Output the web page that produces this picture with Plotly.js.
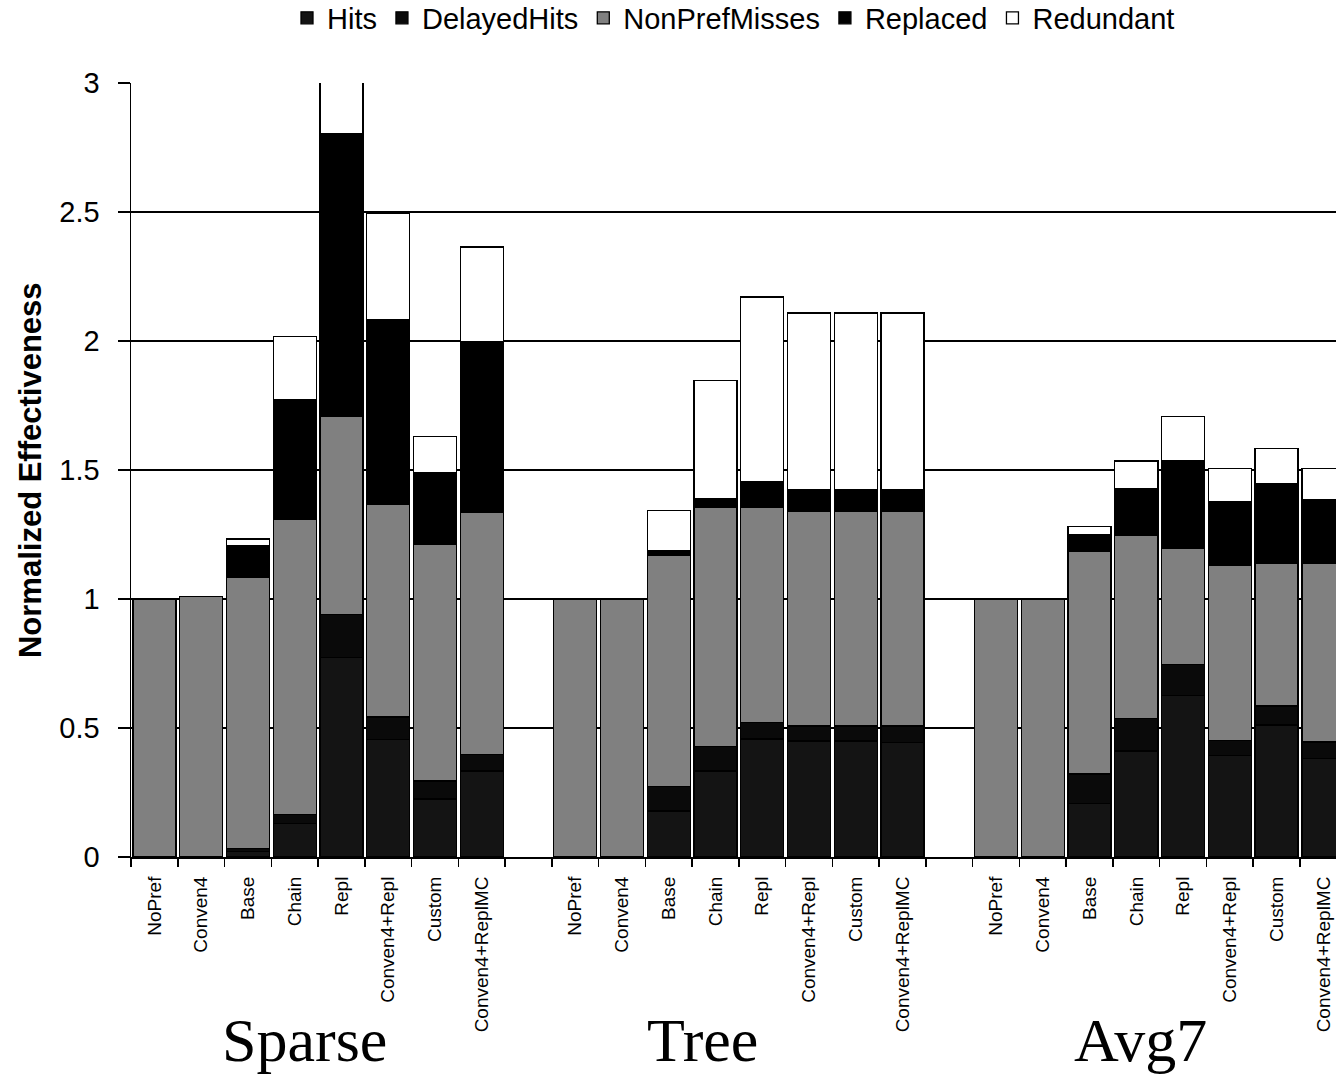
<!DOCTYPE html>
<html>
<head>
<meta charset="utf-8">
<script src="https://cdn.plot.ly/plotly-3.0.1.min.js"></script>
<style>html,body{margin:0;padding:0;background:#fff;}#chart{width:1336px;height:1082px;}</style>
</head>
<body>
<div id="chart"></div>
<script>
// ---- data ----
const groups = ["Sparse", "Tree", "Avg7"];
const configs = ["NoPref", "Conven4", "Base", "Chain", "Repl", "Conven4+Repl", "Custom", "Conven4+ReplMC"];

// values per bar, groups concatenated: Sparse (8), Tree (8), Avg7 (8)
const hits = [0, 0, 0.020, 0.130, 0.774, 0.456, 0.225, 0.333,
              0, 0, 0.178, 0.333, 0.457, 0.450, 0.450, 0.443,
              0, 0, 0.208, 0.411, 0.626, 0.394, 0.512, 0.381];
const delayedHits = [0, 0, 0.014, 0.035, 0.166, 0.087, 0.070, 0.065,
                     0, 0, 0.094, 0.094, 0.064, 0.058, 0.058, 0.065,
                     0, 0, 0.114, 0.126, 0.120, 0.058, 0.073, 0.065];
const nonPrefMisses = [1.000, 1.009, 1.048, 1.142, 0.769, 0.825, 0.918, 0.939,
                       1.000, 1.000, 0.899, 0.927, 0.833, 0.830, 0.830, 0.830,
                       1.000, 1.000, 0.861, 0.708, 0.452, 0.677, 0.552, 0.691];
const replaced = [0, 0, 0.123, 0.464, 1.093, 0.713, 0.278, 0.659,
                  0, 0, 0.016, 0.036, 0.099, 0.084, 0.084, 0.084,
                  0, 0, 0.067, 0.183, 0.339, 0.247, 0.309, 0.247];
const redundant = [0, 0, 0.028, 0.246, 0.500, 0.413, 0.138, 0.368,
                   0, 0, 0.155, 0.456, 0.718, 0.687, 0.687, 0.687,
                   0, 0, 0.030, 0.107, 0.171, 0.129, 0.136, 0.121];
const yTicks = [0, 0.5, 1, 1.5, 2, 2.5, 3];
const yTitle = "Normalized Effectiveness";

// ---- slot positions (one empty slot between groups) ----
const xs = [], labels = [];
groups.forEach((g, gi) => configs.forEach((c, ci) => { xs.push(gi * (configs.length + 1) + ci); labels.push(c); }));
const nSlots = groups.length * (configs.length + 1) - 1;
const bounds = [];
for (let k = 0; k <= nSlots; k++) bounds.push(k - 0.5);
const groupCenters = [3.2, 11.73, 21.08];

const FONT = "Liberation Sans, Arial, Helvetica, sans-serif";
const line = {color: "#000", width: 1.3};
function tr(name, vals, color) {
  return {type: "bar", name: name, x: xs, y: vals,
          marker: {color: color, line: line}, hoverinfo: "name+y"};
}
const data = [
  tr("Hits", hits, "#141414"),
  tr("DelayedHits", delayedHits, "#0a0a0a"),
  tr("NonPrefMisses", nonPrefMisses, "#808080"),
  tr("Replaced", replaced, "#000000"),
  tr("Redundant", redundant, "#ffffff")
];

const annotations = groups.map((g, i) => ({
  text: g, xref: "x", yref: "paper", x: groupCenters[i], y: -0.236,
  xanchor: "center", yanchor: "middle", showarrow: false,
  font: {family: "Liberation Serif, Times New Roman, serif", size: 62, color: "#000"}
}));
annotations.push({
  text: "<b>" + yTitle + "</b>", xref: "paper", yref: "paper", x: -0.0838, y: 0.5,
  xanchor: "center", yanchor: "middle", textangle: -90, showarrow: false,
  font: {family: FONT, size: 31, color: "#000"}
});

const layout = {
  width: 1336, height: 1082,
  margin: {l: 131, r: 0, t: 83, b: 225, autoexpand: false},
  paper_bgcolor: "#fff", plot_bgcolor: "#fff",
  barmode: "stack", bargap: 0.08,
  font: {family: FONT, color: "#000"},
  showlegend: true,
  legend: {orientation: "h", x: 0.5, xanchor: "center", y: 1.084, yanchor: "middle",
           traceorder: "normal", font: {family: FONT, size: 29, color: "#000"},
           itemwidth: 30, bgcolor: "rgba(0,0,0,0)"},
  xaxis: {range: [-0.5, 25.27], tickmode: "array", tickvals: xs, ticktext: labels,
          tickangle: -90, ticks: "", ticklabelstandoff: 10,
          tickfont: {family: FONT, size: 19, color: "#000"},
          showline: true, linecolor: "#000", linewidth: 2, showgrid: false, zeroline: false,
          minor: {tickmode: "array", tickvals: bounds, ticks: "outside", ticklen: 8,
                  tickwidth: 1.5, tickcolor: "#000", showgrid: false},
          fixedrange: true, automargin: false},
  yaxis: {range: [0, 3], tickmode: "array", tickvals: yTicks, ticktext: yTicks.map(String),
          ticks: "outside", ticklen: 12, tickwidth: 1.5, tickcolor: "#000",
          ticklabelstandoff: 12,
          tickfont: {family: FONT, size: 29, color: "#000"},
          showline: true, linecolor: "#000", linewidth: 1.5,
          showgrid: true, gridcolor: "#000", gridwidth: 1.2, zeroline: false,
          fixedrange: true, automargin: false},
  annotations: annotations
};

Plotly.newPlot("chart", data, layout, {displayModeBar: false, staticPlot: true});
</script>
</body>
</html>
